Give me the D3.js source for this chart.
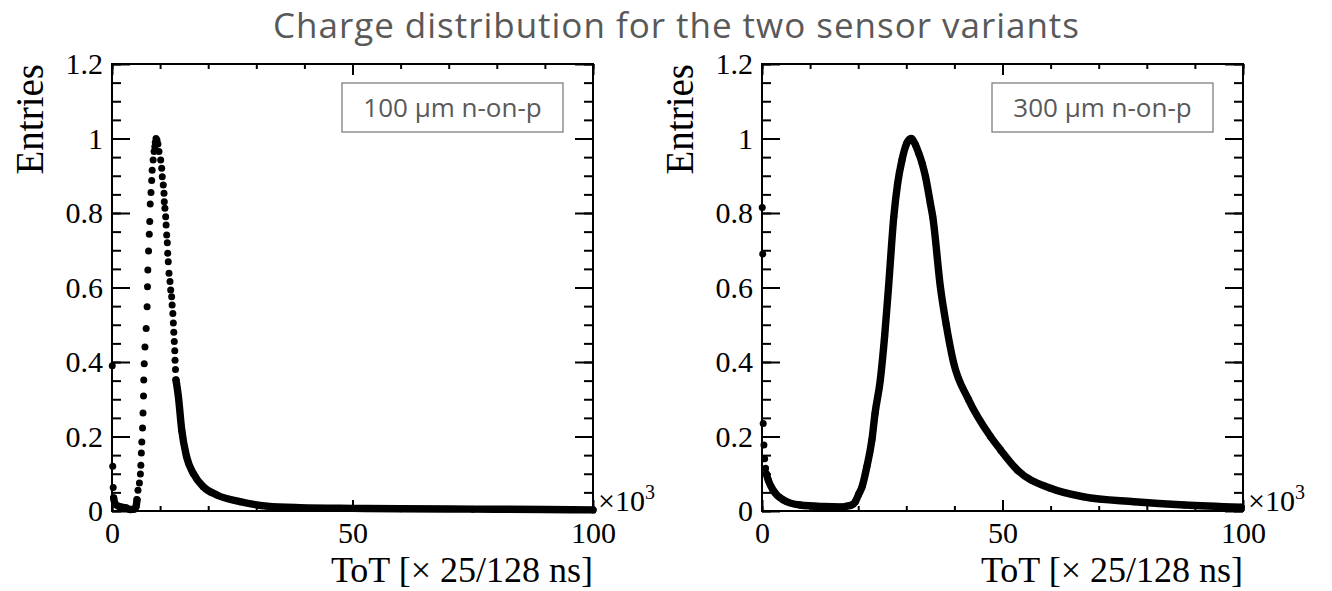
<!DOCTYPE html>
<html>
<head>
<meta charset="utf-8">
<script src="https://cdn.jsdelivr.net/npm/d3@7"></script>
<style>
    html, body { margin: 0; padding: 0; background: #fff; }
    svg { display: block; }
    .tick line { stroke: #000; stroke-width: 2; }
    .tick text { font-family: "Liberation Serif", "Times New Roman", serif; font-size: 30px; fill: #000; }
</style>
</head>
<body>
<svg id="chart" width="1332" height="591"></svg>
<script>
// Charge (ToT) distributions, x in units of 10^3 x 25/128 ns, y normalised to peak

// 100 um sensor: bins that show up as single markers (steep parts)
const thin100Bins = [
    [0.05, 0.39], [0.15, 0.12], [0.25, 0.063],
    [5.4, 0.056], [5.7, 0.075], [5.9, 0.099], [6.0, 0.123], [6.1, 0.156],
    [6.2, 0.185], [6.35, 0.223], [6.45, 0.263], [6.55, 0.309], [6.6, 0.352],
    [6.7, 0.395], [6.85, 0.44], [7.1, 0.49], [7.3, 0.548], [7.38, 0.602],
    [7.45, 0.647], [7.6, 0.698], [7.75, 0.743], [7.85, 0.777], [7.95, 0.824],
    [8.1, 0.855], [8.25, 0.887], [8.35, 0.915], [8.55, 0.942], [8.75, 0.965],
    [8.9, 0.978], [9.0, 0.99], [9.15, 1.0], [9.35, 0.995], [9.55, 0.985],
    [9.77, 0.965], [10.12, 0.942], [10.33, 0.92], [10.45, 0.897], [10.66, 0.875],
    [10.81, 0.853], [10.87, 0.83], [11.0, 0.813], [11.16, 0.79], [11.25, 0.768],
    [11.37, 0.741], [11.5, 0.72], [11.58, 0.692], [11.7, 0.669], [11.85, 0.638],
    [12.06, 0.616], [12.2, 0.593], [12.4, 0.575], [12.5, 0.553], [12.65, 0.53],
    [12.75, 0.505], [12.85, 0.48], [12.95, 0.455], [13.05, 0.43], [13.1, 0.405],
    [13.2, 0.38]
];
// 100 um sensor: dense bins where the markers merge into a band
const thin100Band = [
    [0.35, 0.035], [0.6, 0.02], [1.5, 0.012], [3.0, 0.008], [3.8, 0.004],
    [4.6, 0.005], [5.0, 0.012], [5.2, 0.03],
    [13.3, 0.352], [13.8, 0.307], [14.5, 0.217], [15.5, 0.146], [16.9, 0.101],
    [19.0, 0.065], [21.8, 0.043], [26.6, 0.025], [32.2, 0.013], [39.1, 0.009],
    [50, 0.007], [60, 0.006], [75, 0.005], [90, 0.004], [100, 0.003]
];

// 300 um sensor
const thick300Bins = [
    [0.05, 0.815], [0.15, 0.69], [0.25, 0.235], [0.4, 0.177], [0.55, 0.14], [0.75, 0.115]
];
const thick300Band = [
    [0.9, 0.1], [1.3, 0.083], [2.3, 0.056], [4.4, 0.03], [7.9, 0.016], [12.8, 0.012],
    [16.5, 0.011], [17.6, 0.013], [18.6, 0.016], [19.4, 0.025], [20.1, 0.045],
    [20.8, 0.065], [21.8, 0.119], [22.85, 0.191], [23.5, 0.262], [24.6, 0.352],
    [25.5, 0.47], [26.3, 0.6], [27.4, 0.79], [28.2, 0.879], [29.1, 0.942],
    [30.1, 0.987], [31.0, 1.0], [31.9, 0.983], [32.6, 0.96], [33.3, 0.933],
    [34.0, 0.897], [35.0, 0.826], [35.5, 0.79], [37.1, 0.6], [38.3, 0.5],
    [39.8, 0.4], [42.9, 0.3], [47.5, 0.2], [49.6, 0.164], [53.1, 0.11],
    [60, 0.061], [66.9, 0.038], [77.4, 0.025], [87.8, 0.016], [99.6, 0.01]
];

const panelLabels = ['100 \u00b5m n-on-p', '300 \u00b5m n-on-p'];
const xMajorTicks = [0, 50, 100];
const yMajorTicks = [0, 0.2, 0.4, 0.6, 0.8, 1, 1.2];

const svg = d3.select('#chart');
const serif = '"Liberation Serif", "Times New Roman", serif';
const sans = '"Open Sans", "Noto Sans", sans-serif';

// Title
svg.append('text')
    .attr('x', 676)
    .attr('y', 38)
    .attr('text-anchor', 'middle')
    .attr('textLength', 806)
    .attr('lengthAdjust', 'spacing')
    .style('font-family', sans)
    .style('font-size', '35px')
    .style('fill', '#595959')
    .text('Charge distribution for the two sensor variants');

function drawPanel(left, bins, band, label) {
    const width = 481, height = 447, top = 64;
    const g = svg.append('g').attr('transform', `translate(${left},${top})`);

    const x = d3.scaleLinear().domain([0, 100]).range([0, width]);
    const y = d3.scaleLinear().domain([0, 1.2]).range([height, 0]);

    const xMinor = d3.range(0, 100.1, 10);
    const yMinor = d3.range(0, 1.201, 0.05);

    // minor ticks, all four sides
    g.append('g').call(d3.axisBottom(x).tickValues(xMinor).tickSize(-5).tickFormat(''))
        .attr('transform', `translate(0,${height})`);
    g.append('g').call(d3.axisTop(x).tickValues(xMinor).tickSize(-5).tickFormat(''));
    g.append('g').call(d3.axisLeft(y).tickValues(yMinor).tickSize(-9).tickFormat(''));
    g.append('g').call(d3.axisRight(y).tickValues(yMinor).tickSize(-9).tickFormat(''))
        .attr('transform', `translate(${width},0)`);

    // major ticks with labels
    g.append('g').call(d3.axisBottom(x).tickValues(xMajorTicks).tickSize(-11).tickPadding(11).tickFormat(d3.format('d')))
        .attr('transform', `translate(0,${height})`);
    g.append('g').call(d3.axisTop(x).tickValues(xMajorTicks).tickSize(-11).tickFormat(''));
    g.append('g').call(d3.axisLeft(y).tickValues(yMajorTicks).tickSize(-18).tickPadding(9)
        .tickFormat(d => String(+d.toFixed(1))));
    g.append('g').call(d3.axisRight(y).tickValues(yMajorTicks).tickSize(-18).tickFormat(''))
        .attr('transform', `translate(${width},0)`);

    g.selectAll('.domain').remove();

    // Frame
    g.append('rect')
        .attr('width', width)
        .attr('height', height)
        .style('fill', 'none')
        .style('stroke', '#000')
        .style('stroke-width', 2);

    // Merged markers drawn as a thick band
    const line = d3.line()
        .x(d => x(d[0]))
        .y(d => y(d[1]))
        .curve(d3.curveMonotoneX);

    // split the band where the single-marker bins sit in between
    const segments = [];
    let seg = [];
    band.forEach((d, i) => {
        if (i > 0) {
            const x0 = band[i - 1][0];
            if (bins.some(b => b[0] > x0 && b[0] < d[0])) { segments.push(seg); seg = []; }
        }
        seg.push(d);
    });
    segments.push(seg);

    g.selectAll('.band')
        .data(segments)
        .enter()
        .append('path')
        .attr('d', line)
        .style('fill', 'none')
        .style('stroke', '#000')
        .style('stroke-width', 7.4)
        .style('stroke-linejoin', 'round')
        .style('stroke-linecap', 'round');

    g.selectAll('.marker')
        .data(bins.concat(band))
        .enter()
        .append('circle')
        .attr('cx', d => x(d[0]))
        .attr('cy', d => y(d[1]))
        .attr('r', 3.5)
        .style('fill', '#000');

    // Axis titles
    g.append('text')
        .attr('transform', `translate(-69,0) rotate(-90)`)
        .attr('text-anchor', 'end')
        .style('font-family', serif)
        .style('font-size', '39px')
        .text('Entries');

    g.append('text')
        .attr('x', width)
        .attr('y', height + 71)
        .attr('text-anchor', 'end')
        .style('font-family', serif)
        .style('font-size', '36px')
        .text('ToT [\u00d7 25/128 ns]');

    const mult = g.append('text')
        .attr('x', width + 5)
        .attr('y', height)
        .style('font-family', serif)
        .style('font-size', '30px')
        .text('\u00d710');
    mult.append('tspan')
        .attr('dy', -12)
        .style('font-size', '20px')
        .text('3');

    // Legend box
    g.append('rect')
        .attr('x', width - 30 - 221)
        .attr('y', 19)
        .attr('width', 221)
        .attr('height', 49)
        .style('fill', '#fff')
        .style('stroke', '#7f7f7f')
        .style('stroke-width', 1.3);

    g.append('text')
        .attr('x', width - 30 - 110.5)
        .attr('y', 53)
        .attr('text-anchor', 'middle')
        .style('font-family', sans)
        .style('font-size', '26px')
        .style('fill', '#595959')
        .text(label);
}

drawPanel(112, thin100Bins, thin100Band, panelLabels[0]);
drawPanel(762, thick300Bins, thick300Band, panelLabels[1]);
</script>
</body>
</html>
